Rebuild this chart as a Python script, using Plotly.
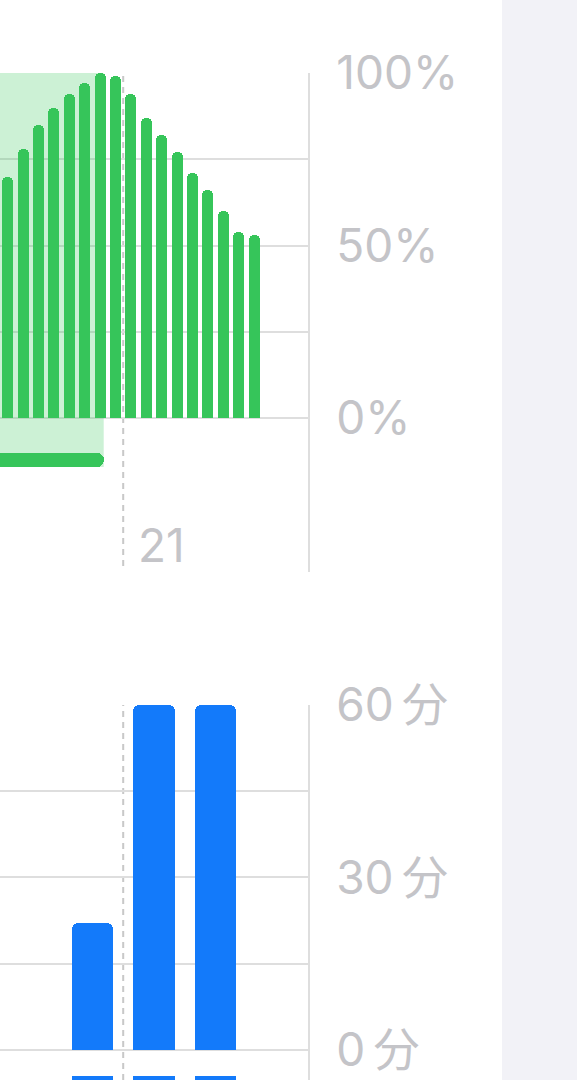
import plotly.graph_objects as go

# ---------------- data ----------------
battery_times = ["19:00", "19:15", "19:30", "19:45", "20:00", "20:15", "20:30", "20:45",
                 "21:00", "21:15", "21:30", "21:45", "22:00", "22:15", "22:30", "22:45", "23:00"]
battery_level = [70, 78, 85, 90, 94, 97, 100, 99, 94, 87, 82, 77, 71, 66, 60, 54, 53]

charging_start = "18:00"
charging_end = "20:41"

activity_hours = ["20:00", "21:00", "22:00"]
activity_minutes = [22, 60, 60]
next_panel_values = [1, 1, 1]

battery_ticks = [0, 25, 50, 75, 100]
battery_ticktext = ["0%", "", "50%", "", "100%"]
activity_ticks = [0, 15, 30, 45, 60]
activity_ticktext = ["0\u2009分", "", "30\u2009分", "", "60\u2009分"]
hour_labels = [21]


def to_h(s):
    h, m = s.split(":")
    return int(h) + int(m) / 60.0


# ---------------- geometry / style ----------------
W, H = 577, 1080
PLOT_RIGHT = 308
X_RANGE = [19.0, 24.0]
GREEN = "#36C55A"
BLUE = "#137AFA"
GRID = "#DEDEDE"
TXT = "#C4C4C8"
FONT = "Inter, Noto Sans CJK JP, sans-serif"
FS = 46

def py(pix):
    return 1 - pix / H

xdom = [0, PLOT_RIGHT / W]
top_dom = [py(572), py(73)]
bot_dom = [0, py(705)]

fig = go.Figure()

# battery bars (15-minute bins, centered)
bx = [to_h(t) + 0.125 for t in battery_times]
fig.add_trace(go.Bar(x=bx, y=battery_level, width=0.18, marker=dict(color=GREEN, cornerradius=5.5, line=dict(width=0)),
                     xaxis="x", yaxis="y", hoverinfo="skip"))

# charging bar
cs, ce = to_h(charging_start), to_h(charging_end)
fig.add_trace(go.Bar(orientation="h", y=[-12.1], x=[ce - cs], base=[cs], width=[4.06],
                     marker=dict(color=GREEN, cornerradius=7, line=dict(width=0)),
                     xaxis="x", yaxis="y", hoverinfo="skip"))

# activity bars (hourly)
ax_ = [to_h(t) + 0.5 for t in activity_hours]
fig.add_trace(go.Bar(x=ax_, y=activity_minutes, width=0.675, marker=dict(color=BLUE, cornerradius=6, line=dict(width=0)),
                     xaxis="x2", yaxis="y2", hoverinfo="skip"))
fig.add_trace(go.Bar(x=ax_, y=next_panel_values, width=0.675, marker=dict(color=BLUE, line=dict(width=0)),
                     xaxis="x2", yaxis="y3", hoverinfo="skip"))

shapes = [
    dict(type="rect", xref="paper", yref="paper", x0=502 / W, x1=1, y0=0, y1=1,
         fillcolor="#F2F2F7", line=dict(width=0), layer="below"),
    dict(type="rect", xref="x", yref="y", x0=cs, x1=ce, y0=-14.2, y1=100,
         fillcolor="rgba(52,199,89,0.25)", line=dict(width=0), layer="between"),
]
for h in hour_labels:
    shapes.append(dict(type="line", xref="x", yref="paper", x0=h, x1=h, y0=py(566), y1=py(73),
                       line=dict(color="#C8C8C8", width=2, dash="6px,5px"), layer="between"))
    shapes.append(dict(type="line", xref="x2", yref="paper", x0=h, x1=h, y0=0, y1=py(705),
                       line=dict(color="#C8C8C8", width=2, dash="6px,5px"), layer="between"))

annotations = []
for h in hour_labels:
    annotations.append(dict(x=h, xref="x", y=py(545), yref="paper", text=str(h), showarrow=False,
                            xanchor="left", yanchor="middle", xshift=13,
                            font=dict(family=FONT, size=FS, color=TXT)))

common_x = dict(domain=xdom, range=X_RANGE, showgrid=False, showticklabels=False, zeroline=False,
                showline=False, ticks="", fixedrange=True, automargin=False)
common_y = dict(side="right", showgrid=True, gridcolor=GRID, gridwidth=2, zeroline=False,
                showline=True, linecolor=GRID, linewidth=2, ticks="", ticklabelstandoff=17,
                tickfont=dict(family=FONT, size=FS, color=TXT), fixedrange=True, automargin=False)

fig.update_layout(
    width=W, height=H,
    margin=dict(l=0, r=0, t=0, b=0, pad=0, autoexpand=False),
    paper_bgcolor="white", plot_bgcolor="rgba(0,0,0,0)",
    showlegend=False, barmode="overlay", bargap=0,
    xaxis=dict(anchor="y", **common_x),
    xaxis2=dict(anchor="y2", **common_x),
    yaxis=dict(anchor="x", domain=top_dom, range=[-44.6, 100], tickvals=battery_ticks,
               ticktext=battery_ticktext, **common_y),
    yaxis2=dict(anchor="x2", domain=bot_dom, range=[-5.22, 60], tickvals=activity_ticks,
                ticktext=activity_ticktext, **common_y),
    yaxis3=dict(anchor="x2", domain=[0, 4 / H], range=[0, 1], showgrid=False, showticklabels=False,
                zeroline=False, showline=False, fixedrange=True, automargin=False),
    shapes=shapes,
    annotations=annotations,
)

fig.write_html("out.html", config={"displayModeBar": False},
               post_script="document.body.style.margin='0';document.body.style.overflow='hidden';")
